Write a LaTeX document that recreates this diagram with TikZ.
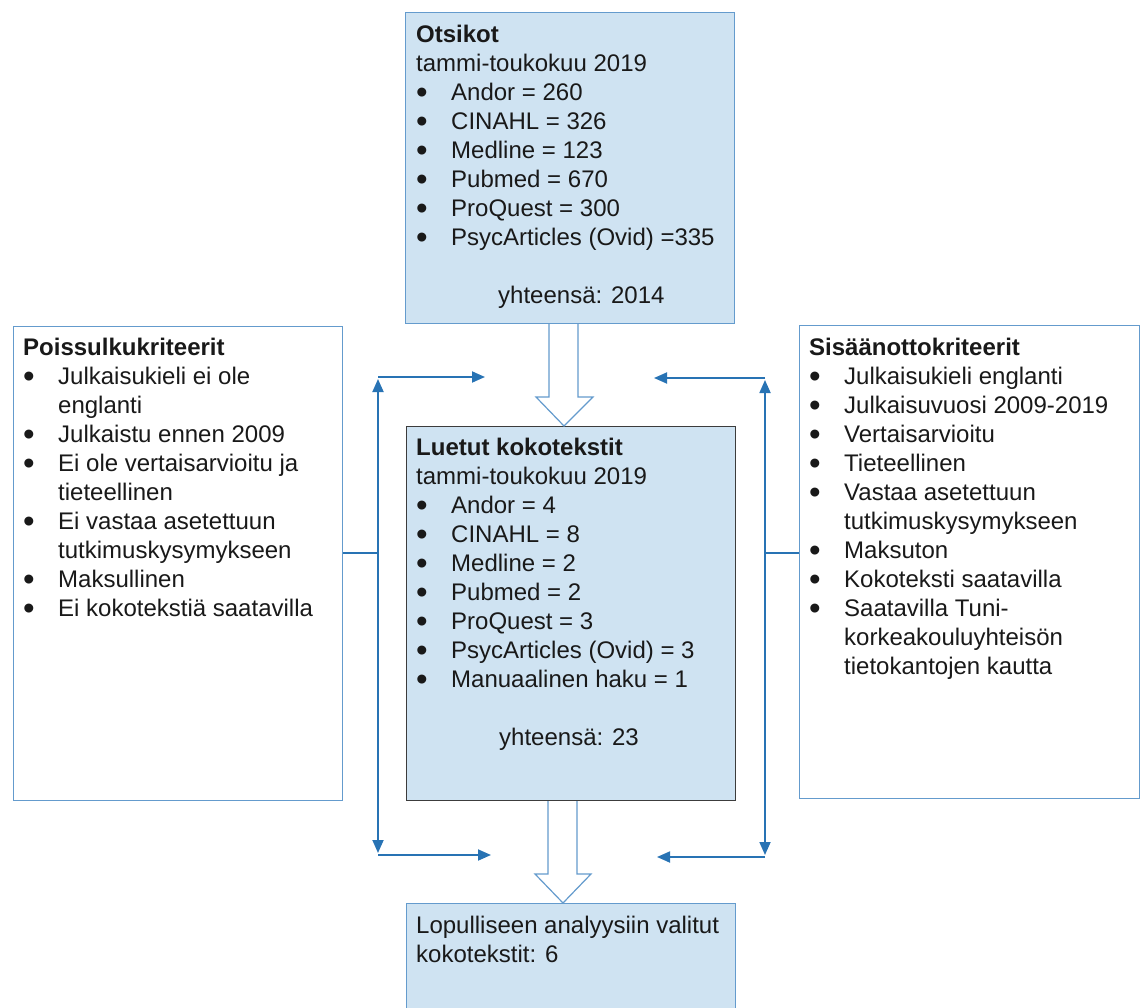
\documentclass[tikz,border=0pt]{standalone}
\usepackage{fontspec}
\setmainfont{Liberation Sans}
\usetikzlibrary{arrows.meta}
\definecolor{boxfill}{RGB}{207,227,242}
\definecolor{boxline}{RGB}{100,155,205}
\definecolor{darkline}{RGB}{60,60,60}
\definecolor{conncol}{RGB}{40,115,180}
\definecolor{txtcol}{RGB}{25,25,25}
\newcommand{\bigbul}{{\fontsize{33}{29}\selectfont\raisebox{-3pt}{\textbullet}}}
\newcommand{\bitem}[1]{\makebox[35pt][l]{\hspace{0pt}\bigbul}#1}
\newcommand{\bcont}[1]{\hspace*{35pt}#1}
\newcommand{\firstline}{\rule{0pt}{20pt}}
\tikzset{
  x=1pt, y=-1pt,
  panel/.style={draw=boxline, line width=1.2pt, inner sep=0pt, anchor=north west},
  bluepanel/.style={panel, fill=boxfill},
  whitepanel/.style={panel, fill=white},
  darkpanel/.style={panel, fill=boxfill, draw=darkline},
  boxtext/.style={anchor=north west, inner sep=0pt, align=left, text=txtcol,
    font=\fontsize{24}{29}\selectfont},
  blockarr/.style={draw=boxline, fill=white, line width=1.2pt, line join=miter},
  conn/.style={draw=conncol, line width=1.8pt},
  conntip/.style={conn, -{Triangle[length=13pt,width=11pt]}},
  conntips/.style={conn, {Triangle[length=13pt,width=11pt]}-{Triangle[length=13pt,width=11pt]}},
}
\begin{document}
\begin{tikzpicture}
\useasboundingbox (0,0) rectangle (1141,1008);
\begin{scope}
\clip (0,0) rectangle (1141,1008);
% boxes
\node[bluepanel, minimum width=329pt, minimum height=311pt] (top) at (405,12) {};
\node[whitepanel, minimum width=329pt, minimum height=474pt] (left) at (13,326) {};
\node[whitepanel, minimum width=340pt, minimum height=473pt] (right) at (799,325) {};
\node[darkpanel, minimum width=329pt, minimum height=374pt] (mid) at (406,426) {};
\node[bluepanel, minimum width=329pt, minimum height=130pt] (bot) at (406,903) {};

% texts
\node[boxtext] (toptxt) at (416,22) {\firstline\textbf{Otsikot}\\
tammi-toukokuu 2019\\
\bitem{Andor = 260}\\
\bitem{CINAHL = 326}\\
\bitem{Medline = 123}\\
\bitem{Pubmed = 670}\\
\bitem{ProQuest = 300}\\
\bitem{PsycArticles (Ovid) =335}\\
\mbox{}\\
\hspace*{82pt}yhteensä: 2014};

\node[boxtext] (lefttxt) at (23,335) {\firstline\textbf{Poissulkukriteerit}\\
\bitem{Julkaisukieli ei ole}\\
\bcont{englanti}\\
\bitem{Julkaistu ennen 2009}\\
\bitem{Ei ole vertaisarvioitu ja}\\
\bcont{tieteellinen}\\
\bitem{Ei vastaa asetettuun}\\
\bcont{tutkimuskysymykseen}\\
\bitem{Maksullinen}\\
\bitem{Ei kokotekstiä saatavilla}};

\node[boxtext] (righttxt) at (809,335) {\firstline\textbf{Sisäänottokriteerit}\\
\bitem{Julkaisukieli englanti}\\
\bitem{Julkaisuvuosi 2009-2019}\\
\bitem{Vertaisarvioitu}\\
\bitem{Tieteellinen}\\
\bitem{Vastaa asetettuun}\\
\bcont{tutkimuskysymykseen}\\
\bitem{Maksuton}\\
\bitem{Kokoteksti saatavilla}\\
\bitem{Saatavilla Tuni-}\\
\bcont{korkeakouluyhteisön}\\
\bcont{tietokantojen kautta}};

\node[boxtext] (midtxt) at (416,435) {\firstline\textbf{Luetut kokotekstit}\\
tammi-toukokuu 2019\\
\bitem{Andor = 4}\\
\bitem{CINAHL = 8}\\
\bitem{Medline = 2}\\
\bitem{Pubmed = 2}\\
\bitem{ProQuest = 3}\\
\bitem{PsycArticles (Ovid) = 3}\\
\bitem{Manuaalinen haku = 1}\\
\mbox{}\\
\hspace*{83pt}yhteensä: 23};

\node[boxtext] (bottxt) at (416,913) {\firstline Lopulliseen analyysiin valitut\\
kokotekstit: 6};

% block arrows
\draw[blockarr] (top.south -| 549,0) -- (549,397) -- (536,397) -- (mid.north -| 564,0)
  -- (593,397) -- (578,397) -- (top.south -| 578,0);
\draw[blockarr] (mid.south -| 548,0) -- (548,874) -- (535,874) -- (bot.north -| 563,0)
  -- (591,874) -- (577,874) -- (mid.south -| 577,0);

% connectors left
\coordinate (LT) at (378,377);
\coordinate (LB) at (378,855);
\coordinate (LTe) at (485,377);
\coordinate (LBe) at (491,855);
\coordinate (LTv) at (378,379);
\coordinate (LBv) at (378,853);
\draw[conn] (left.east |- 0,553) -- (378,553);
\draw[conntips] (LTv) -- (LBv);
\draw[conntip] (LT) -- (LTe);
\draw[conntip] (LB) -- (LBe);

% connectors right
\coordinate (RT) at (765,378);
\coordinate (RB) at (765,857);
\coordinate (RTe) at (654,378);
\coordinate (RBe) at (657,857);
\coordinate (RTv) at (765,380);
\coordinate (RBv) at (765,855);
\draw[conn] (right.west |- 0,553) -- (765,553);
\draw[conntips] (RTv) -- (RBv);
\draw[conntip] (RT) -- (RTe);
\draw[conntip] (RB) -- (RBe);
\end{scope}
\end{tikzpicture}
\end{document}
